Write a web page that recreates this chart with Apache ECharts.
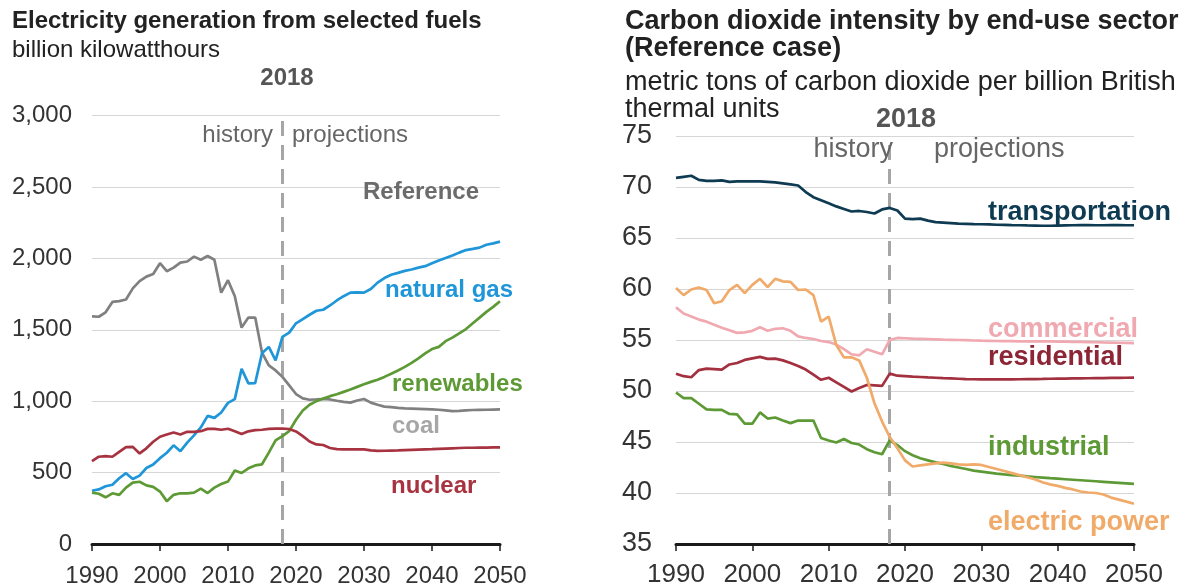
<!DOCTYPE html>
<html>
<head>
<meta charset="utf-8">
<script src="https://cdn.jsdelivr.net/npm/echarts@6/dist/echarts.min.js"></script>
<style>
html,body{margin:0;padding:0;background:#fff;}
#c{width:1185px;height:588px;}
</style>
</head>
<body>
<div id="c"></div>
<script>
// ---------- data ----------
const years = [];
for (let y = 1990; y <= 2050; y++) years.push(y);

const xTicks = [1990, 2000, 2010, 2020, 2030, 2040, 2050];
const leftYTicks = [0, 500, 1000, 1500, 2000, 2500, 3000];
const rightYTicks = [35, 40, 45, 50, 55, 60, 65, 70, 75];

// Electricity generation (billion kWh)
const coal = [1594,1591,1622,1695,1700,1712,1790,1840,1872,1890,1966,1910,1935,1970,1978,2012,1990,2016,1990,1760,1847,1735,1515,1585,1585,1340,1250,1215,1170,
  1110,1050,1020,1010,1012,1015,1012,1003,995,990,1005,1015,990,975,962,958,953,950,948,946,944,942,940,935,930,932,936,938,939,940,941,942];
const naturalGas = [373,382,404,415,460,496,455,479,532,557,601,639,691,650,710,761,816,897,883,921,988,1014,1226,1125,1127,1335,1380,1285,1450,
  1480,1545,1575,1605,1633,1640,1670,1705,1735,1760,1762,1760,1785,1830,1862,1885,1898,1912,1922,1935,1945,1965,1985,2002,2020,2040,2058,2066,2075,2095,2105,2117];
const renewables = [360,352,327,355,344,395,430,436,410,400,367,300,344,355,355,360,388,357,395,420,437,515,497,530,550,558,640,725,755,
  790,870,935,975,1000,1018,1035,1048,1065,1082,1100,1118,1135,1150,1170,1192,1215,1240,1268,1300,1335,1365,1380,1420,1445,1475,1505,1545,1585,1625,1660,1700];
const nuclear = [580,611,615,611,645,678,680,634,670,716,751,767,781,767,786,785,790,806,806,800,807,790,770,789,797,800,806,808,808,
  805,788,755,718,697,693,672,664,662,662,663,663,655,652,653,654,655,657,659,661,663,664,666,668,670,672,674,674,675,675,676,676];

// Carbon dioxide intensity (metric tons CO2 per billion Btu)
const transportation = [70.9,71.0,71.1,70.7,70.6,70.6,70.65,70.5,70.55,70.55,70.55,70.55,70.5,70.45,70.35,70.25,70.15,69.5,69.0,68.7,68.4,68.1,67.85,67.6,67.65,67.55,67.4,67.8,67.95,
  67.7,66.9,66.85,66.9,66.7,66.55,66.5,66.45,66.4,66.38,66.36,66.35,66.33,66.3,66.28,66.26,66.25,66.23,66.22,66.2,66.2,66.22,66.24,66.25,66.26,66.26,66.25,66.25,66.26,66.26,66.25,66.25];
const commercial = [58.2,57.6,57.3,57.0,56.8,56.5,56.2,55.95,55.7,55.75,55.9,56.25,55.9,56.1,56.15,55.9,55.35,55.2,55.1,54.9,54.8,54.55,54.1,53.6,53.5,54.1,53.85,53.6,55.0,
  55.2,55.17,55.14,55.12,55.1,55.07,55.04,55.02,55.0,54.98,54.95,54.93,54.92,54.9,54.89,54.88,54.87,54.87,54.87,54.86,54.86,54.85,54.84,54.82,54.81,54.8,54.78,54.76,54.75,54.73,54.72,54.7];
const residential = [51.7,51.45,51.35,52.05,52.2,52.15,52.1,52.6,52.75,53.05,53.2,53.35,53.15,53.18,53.0,52.75,52.45,52.1,51.6,51.1,51.3,50.85,50.4,49.95,50.3,50.6,50.55,50.5,51.7,
  51.5,51.45,51.4,51.37,51.33,51.3,51.26,51.23,51.2,51.17,51.15,51.14,51.13,51.13,51.13,51.14,51.15,51.16,51.17,51.18,51.2,51.21,51.22,51.23,51.24,51.25,51.26,51.27,51.28,51.29,51.3,51.31];
const industrial = [49.85,49.3,49.3,48.75,48.2,48.15,48.15,47.75,47.7,46.8,46.8,47.9,47.3,47.4,47.1,46.85,47.1,47.1,47.1,45.4,45.15,44.95,45.3,44.9,44.75,44.3,44.0,43.8,45.15,
  44.7,44.1,43.7,43.4,43.2,43.0,42.85,42.65,42.5,42.35,42.2,42.1,42.0,41.9,41.82,41.76,41.7,41.63,41.57,41.51,41.45,41.4,41.35,41.3,41.25,41.2,41.15,41.1,41.05,41.0,40.95,40.9];
const electricPower = [60.1,59.4,59.95,60.15,59.9,58.6,58.8,59.9,60.4,59.6,60.4,61.0,60.2,61.0,60.75,60.7,59.9,59.95,59.4,56.8,57.3,54.5,53.3,53.3,53.0,51.3,48.8,47.0,45.5,
  44.4,43.2,42.6,42.7,42.8,42.9,42.97,42.9,42.8,42.75,42.8,42.75,42.55,42.35,42.15,41.95,41.75,41.55,41.35,41.05,40.85,40.7,40.5,40.35,40.15,40.05,40.0,39.85,39.55,39.35,39.15,38.95];

const dividerYear = 2018;

// ---------- chart ----------
const FONT = 'Liberation Sans, Arial, sans-serif';
const pair = arr => years.map((y, i) => [y, arr[i]]);
const chart = echarts.init(document.getElementById('c'), null, {renderer: 'canvas'});

function lineSeries(name, data, color, gi, withMark) {
  const s = {
    name, type: 'line', xAxisIndex: gi, yAxisIndex: gi,
    data: pair(data), showSymbol: false, symbol: 'none',
    lineStyle: {color, width: 2.7}, itemStyle: {color},
    z: 3, animation: false
  };
  if (withMark) {
    s.markLine = {
      silent: true, symbol: ['none', 'none'],
      lineStyle: {color: '#a6a6a6', width: 3, type: [15, 9]},
      label: {show: false},
      data: [{xAxis: dividerYear}],
      z: 2
    };
  }
  return s;
}

function xAxisCfg(gi, fs, margin) {
  return {
    type: 'value', gridIndex: gi, min: 1990, max: 2050, interval: 10,
    axisLine: {show: true, lineStyle: {color: '#1a1a1a', width: 3}},
    axisTick: {show: true, length: 7, lineStyle: {color: '#1a1a1a', width: 1.5}},
    axisLabel: {color: '#333', fontSize: fs, fontFamily: FONT, margin,
      formatter: v => xTicks.includes(v) ? String(v) : ''},
    splitLine: {show: false}
  };
}

function yAxisCfg(gi, min, max, interval, fs, margin, fmt) {
  return {
    type: 'value', gridIndex: gi, min, max, interval,
    axisLine: {show: false}, axisTick: {show: false},
    axisLabel: {color: '#333', fontSize: fs, fontFamily: FONT, margin, formatter: fmt},
    splitLine: {show: true, lineStyle: {color: '#d6d6d6', width: 1}}
  };
}

function txt(text, x, y, size, color, bold, align) {
  return {
    type: 'text', x, y, z: 10, silent: true,
    style: {text, fill: color, fontSize: size, fontFamily: FONT,
      fontWeight: bold ? 'bold' : 'normal', textAlign: align || 'left', textVerticalAlign: 'middle'}
  };
}

const L = 24, R = 27;

const option = {
  backgroundColor: '#fff',
  animation: false,
  grid: [
    {left: 92, right: 685, top: 115.5, bottom: 42, containLabel: false},
    {left: 676, right: 51, top: 136, bottom: 40, containLabel: false}
  ],
  xAxis: [xAxisCfg(0, 24, 20), xAxisCfg(1, 26, 18)],
  yAxis: [
    yAxisCfg(0, leftYTicks[0], leftYTicks[leftYTicks.length - 1], 500, 24, 20,
      v => v.toLocaleString('en-US')),
    yAxisCfg(1, rightYTicks[0], rightYTicks[rightYTicks.length - 1], 5, 27, 24, v => String(v))
  ],
  series: [
    lineSeries('coal', coal, '#808080', 0, true),
    lineSeries('natural gas', naturalGas, '#1f96d8', 0, false),
    lineSeries('renewables', renewables, '#5d9a35', 0, false),
    lineSeries('nuclear', nuclear, '#a83340', 0, false),
    lineSeries('transportation', transportation, '#0e3a52', 1, true),
    lineSeries('commercial', commercial, '#f0a9b0', 1, false),
    lineSeries('residential', residential, '#a3303f', 1, false),
    lineSeries('industrial', industrial, '#5d9a35', 1, false),
    lineSeries('electric power', electricPower, '#f0ab6a', 1, false)
  ],
  graphic: [
    // left panel
    txt('Electricity generation from selected fuels', 12, 21, L, '#222', true),
    txt('billion kilowatthours', 12, 50, L, '#222', false),
    txt('2018', 287, 78, L, '#555', true, 'center'),
    txt('history', 273, 135, L, '#666', false, 'right'),
    txt('projections', 292, 135, L, '#666', false),
    txt('Reference', 421, 192, L, '#6b6b6b', true, 'center'),
    txt('natural gas', 385, 290, L, '#1f96d8', true),
    txt('renewables', 392, 384, L, '#5d9a35', true),
    txt('coal', 392, 426, L, '#a6a6a6', true),
    txt('nuclear', 391, 486, L, '#a83340', true),
    // right panel
    txt('Carbon dioxide intensity by end-use sector', 625, 22, R, '#222', true),
    txt('(Reference case)', 625, 49, R, '#222', true),
    txt('metric tons of carbon dioxide per billion British', 625, 83, R, '#222', false),
    txt('thermal units', 625, 110, R, '#222', false),
    txt('2018', 906, 120, R, '#555', true, 'center'),
    txt('history', 893, 150, R, '#666', false, 'right'),
    txt('projections', 934, 150, R, '#666', false),
    txt('transportation', 988, 213, R, '#0e3a52', true),
    txt('commercial', 988, 330, R, '#f0a9b0', true),
    txt('residential', 988, 358, R, '#8c2636', true),
    txt('industrial', 988, 448, R, '#5d9a35', true),
    txt('electric power', 988, 523, R, '#f0ab6a', true)
  ]
};
chart.setOption(option);
</script>
</body>
</html>
